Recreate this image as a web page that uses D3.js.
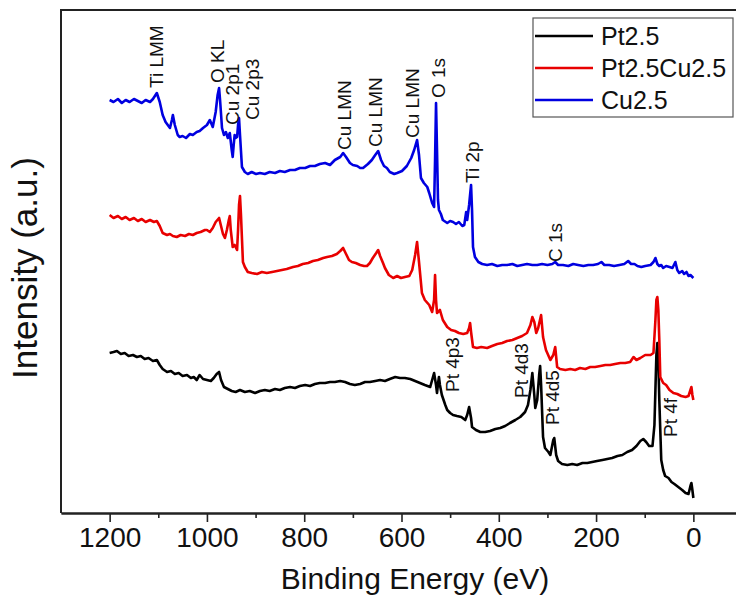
<!DOCTYPE html>
<html>
<head>
<meta charset="utf-8">
<script src="https://cdn.jsdelivr.net/npm/d3@7"></script>
<style>
	body { margin: 0; background: #fff; }
	svg { display: block; font-family: "Liberation Sans", Arial, sans-serif; }
</style>
</head>
<body>
<svg id="chart" width="736" height="598"></svg>
<script>
"use strict";

// survey spectra, [binding energy (eV), intensity (a.u.)]
var pt25 = [
	[1200,320],[1192,322],[1185,324],[1177,318],[1169,320],[1161,314],[1152,316],[1144,312],[1136,314],[1128,308],
	[1120,310],[1111,304],[1103,306],[1097,296],[1091,288],[1082,282],[1074,284],[1066,278],[1058,280],[1050,274],
	[1041,276],[1033,270],[1027,272],[1021,266],[1015,276],[1008,268],[1000,266],[992,264],[986,270],[980,278],
	[975,282],[971,266],[965,252],[957,248],[949,244],[941,242],[932,246],[922,242],[912,244],[901,240],
	[891,244],[881,246],[871,244],[860,248],[850,246],[840,250],[829,252],[819,250],[809,254],[798,256],
	[788,254],[778,258],[768,260],[757,260],[747,262],[737,262],[726,264],[716,262],[706,258],[696,256],
	[685,258],[675,262],[665,262],[654,264],[644,266],[634,264],[624,268],[613,272],[603,270],[593,270],
	[582,268],[572,264],[562,260],[552,256],[541,252],[537,266],[533,280],[529,256],[527,240],[525,258],
	[523,272],[521,256],[517,236],[510,216],[506,206],[500,200],[494,196],[486,194],[477,192],[469,186],
	[465,196],[461,212],[457,190],[455,172],[447,166],[438,162],[428,162],[418,164],[407,168],[397,170],
	[387,174],[377,180],[366,186],[356,192],[346,202],[340,216],[335,246],[331,280],[327,236],[325,210],
	[321,226],[317,276],[315,294],[313,256],[309,152],[305,130],[298,122],[294,116],[288,146],[286,150],
	[282,116],[278,104],[270,98],[259,96],[249,98],[239,96],[228,100],[218,100],[208,102],[198,104],
	[187,106],[177,108],[167,110],[156,114],[146,116],[136,122],[126,126],[117,134],[109,144],[103,148],
	[97,142],[91,134],[84,134],[80,176],[78,246],[76,316],[74,340],[72,306],[70,226],[68,166],
	[66,106],[62,86],[58,74],[51,70],[45,62],[39,58],[31,52],[23,46],[16,40],[10,38],
	[6,54],[4,60],[2,46],[0,30]
];

var pt25cu25 = [
	[1200,596],[1192,590],[1183,594],[1175,588],[1167,592],[1159,586],[1150,590],[1142,584],[1134,588],[1126,582],
	[1117,586],[1109,582],[1103,584],[1097,574],[1091,560],[1082,556],[1076,558],[1070,554],[1062,552],[1054,556],
	[1045,554],[1037,558],[1029,556],[1021,560],[1013,562],[1004,566],[1000,566],[994,562],[988,570],[982,582],
	[975,590],[971,574],[967,558],[963,550],[959,566],[955,586],[953,594],[951,566],[947,532],[943,536],
	[938,526],[936,566],[934,616],[932,634],[930,596],[926,502],[922,492],[916,482],[908,480],[897,478],
	[887,482],[877,480],[866,482],[856,484],[846,486],[836,488],[823,492],[813,494],[803,498],[792,500],
	[782,504],[772,506],[761,510],[753,512],[743,514],[733,518],[726,524],[720,530],[714,518],[708,506],
	[702,502],[694,500],[685,496],[677,494],[671,494],[665,500],[659,510],[652,520],[648,526],[644,514],
	[638,500],[634,490],[626,476],[617,470],[609,474],[601,470],[593,472],[584,474],[578,486],[572,516],
	[568,542],[564,502],[558,440],[552,426],[543,416],[537,402],[533,426],[531,476],[529,426],[527,400],
	[521,406],[515,386],[506,372],[498,366],[490,364],[482,360],[473,358],[465,360],[461,370],[459,380],
	[457,362],[453,332],[445,330],[436,332],[424,330],[414,334],[403,338],[393,340],[383,344],[372,346],
	[362,350],[352,354],[342,360],[335,376],[331,392],[327,382],[323,360],[319,370],[313,396],[309,352],
	[303,326],[294,306],[288,316],[284,332],[280,292],[274,288],[263,286],[253,288],[243,286],[233,290],
	[222,288],[212,292],[202,292],[191,294],[181,296],[171,296],[161,298],[150,300],[140,300],[130,302],
	[123,312],[117,306],[109,310],[99,316],[88,316],[82,320],[78,386],[76,426],[74,432],[72,406],
	[70,346],[68,272],[62,260],[56,256],[49,246],[41,240],[33,238],[25,234],[16,232],[10,234],
	[6,246],[4,252],[2,236],[0,226]
];

var cu25 = [
	[1200,826],[1192,822],[1183,828],[1175,820],[1167,826],[1159,822],[1150,828],[1142,824],[1134,820],[1126,826],
	[1117,822],[1111,828],[1107,834],[1103,840],[1097,822],[1091,796],[1085,782],[1076,770],[1072,786],[1070,796],
	[1066,776],[1060,756],[1056,752],[1050,754],[1043,750],[1035,758],[1029,756],[1021,762],[1015,764],[1008,770],
	[1000,776],[994,786],[988,772],[982,802],[978,836],[975,850],[973,826],[969,770],[965,756],[961,762],
	[957,750],[953,760],[949,726],[947,712],[945,736],[943,756],[941,750],[938,752],[936,776],[934,790],
	[932,756],[928,692],[922,682],[916,678],[908,682],[899,678],[891,680],[881,678],[871,682],[860,680],
	[850,684],[840,682],[829,686],[819,686],[809,690],[798,690],[788,694],[778,694],[768,698],[757,700],
	[747,696],[737,706],[726,712],[720,720],[714,712],[706,700],[700,696],[691,694],[685,690],[679,690],
	[669,698],[661,706],[654,716],[648,724],[642,706],[636,694],[630,690],[624,682],[615,678],[609,680],
	[599,684],[589,694],[580,710],[574,726],[568,746],[564,716],[560,670],[554,660],[547,652],[543,640],
	[537,620],[533,612],[531,706],[529,820],[527,726],[525,626],[523,606],[519,598],[515,586],[506,580],
	[500,584],[494,582],[488,578],[482,582],[475,574],[471,576],[467,602],[465,586],[461,616],[457,656],
	[455,606],[453,532],[449,512],[442,502],[434,498],[424,496],[414,498],[403,494],[393,496],[383,496],
	[372,498],[362,494],[352,496],[342,498],[331,496],[321,496],[311,498],[300,496],[290,498],[284,502],
	[278,496],[268,496],[257,494],[247,498],[237,496],[226,494],[216,496],[206,496],[196,498],[189,502],
	[183,496],[173,496],[163,494],[152,496],[142,498],[134,504],[128,498],[121,498],[115,494],[107,492],
	[99,494],[88,496],[82,502],[78,510],[74,498],[70,494],[66,496],[62,490],[56,494],[49,492],
	[43,490],[37,502],[33,486],[29,480],[23,484],[19,478],[14,482],[10,474],[6,476],[0,470]
];

var seriesNames = ['Pt2.5', 'Pt2.5Cu2.5', 'Cu2.5'];
var majorTicks = [1200, 1000, 800, 600, 400, 200, 0];
var minorTicks = [1100, 900, 700, 500, 300, 100];

// peak assignments: label, energy of text baseline, intensity where text starts
var peakNames = ['Ti LMM', 'O KL', 'Cu 2p1', 'Cu 2p3', 'Cu LMN', 'Cu LMN', 'Cu LMN', 'O 1s', 'Ti 2p', 'C 1s', 'Pt 4p3', 'Pt 4d3', 'Pt 4d5', 'Pt 4f'];
var peakEnergies = [1091, 965, 934, 893, 704, 640, 564, 510, 440, 270, 482, 340, 276, 33];
var peakIntensities = [850, 860, 776, 786, 726, 732, 750, 830, 660, 502, 242, 230, 176, 152];

var svg = d3.select('#chart');
var width = 736, height = 598;

svg.append('rect')
	.attr('width', width)
	.attr('height', height)
	.attr('fill', '#fff');

var x = d3.scaleLinear().domain([1300, -100]).range([61, 742]);
var y = d3.scaleLinear().domain([0, 1006]).range([513, 10]);

var colors = ['#000000', '#e80000', '#0000e0'];
var series = [pt25, pt25cu25, cu25];

//frame lines (left and top)
svg.append('line')
	.attr('x1', 61).attr('x2', 61)
	.attr('y1', 10).attr('y2', 513)
	.attr('stroke', '#222').attr('stroke-width', 2);
svg.append('line')
	.attr('x1', 60).attr('x2', width)
	.attr('y1', 10).attr('y2', 10)
	.attr('stroke', '#222').attr('stroke-width', 2);

//spectra
var line = d3.line()
	.x(function(d) { return x(d[0]); })
	.y(function(d) { return y(d[1]); });

svg.selectAll('.spectrum')
	.data(series)
	.enter().append('path')
	.attr('class', 'spectrum')
	.attr('d', line)
	.attr('fill', 'none')
	.attr('stroke', function(d, i) { return colors[i]; })
	.attr('stroke-width', 2.6)
	.attr('stroke-linejoin', 'round');

//x axis with major and minor ticks
var axisG = svg.append('g').attr('transform', 'translate(0,513)');

axisG.call(d3.axisBottom(x)
	.tickValues(majorTicks)
	.tickSize(9)
	.tickSizeOuter(0)
	.tickPadding(5)
	.tickFormat(d3.format('d')));

axisG.append('g').call(d3.axisBottom(x)
	.tickValues(minorTicks)
	.tickSize(5)
	.tickSizeOuter(0)
	.tickFormat(''));

axisG.selectAll('path.domain').attr('stroke', '#222').attr('stroke-width', 2);
axisG.selectAll('.tick line').attr('stroke', '#222').attr('stroke-width', 1.6);
axisG.selectAll('.tick text')
	.attr('fill', '#111')
	.style('font-family', '"Liberation Sans", Arial, sans-serif')
	.style('font-size', '28px');

//axis titles
svg.append('text')
	.attr('x', 415)
	.attr('y', 589)
	.attr('text-anchor', 'middle')
	.style('font-size', '30px')
	.attr('fill', '#111')
	.text('Binding Energy (eV)');

svg.append('text')
	.attr('transform', 'translate(37,268) rotate(-90)')
	.attr('text-anchor', 'middle')
	.style('font-size', '35px')
	.attr('fill', '#111')
	.text('Intensity (a.u.)');

//peak labels, rotated
svg.selectAll('.peak')
	.data(peakNames)
	.enter().append('text')
	.attr('class', 'peak')
	.attr('transform', function(d, i) {
		return 'translate(' + x(peakEnergies[i]) + ',' + y(peakIntensities[i]) + ') rotate(-90)';
	})
	.style('font-size', '19px')
	.attr('fill', '#111')
	.text(function(d) { return d; });

//legend
var legend = svg.append('g').attr('transform', 'translate(533,18)');
legend.append('rect')
	.attr('width', 200)
	.attr('height', 99)
	.attr('fill', '#fff')
	.attr('stroke', '#555')
	.attr('stroke-width', 1.2);

var entries = legend.selectAll('.entry')
	.data(seriesNames)
	.enter().append('g')
	.attr('class', 'entry')
	.attr('transform', function(d, i) { return 'translate(0,' + (18 + i * 32) + ')'; });

entries.append('line')
	.attr('x1', 2).attr('x2', 60)
	.attr('stroke', function(d, i) { return colors[i]; })
	.attr('stroke-width', 2.5);

entries.append('text')
	.attr('x', 68)
	.attr('y', 9)
	.style('font-size', '25px')
	.attr('fill', '#111')
	.text(function(d) { return d; });
</script>
</body>
</html>
